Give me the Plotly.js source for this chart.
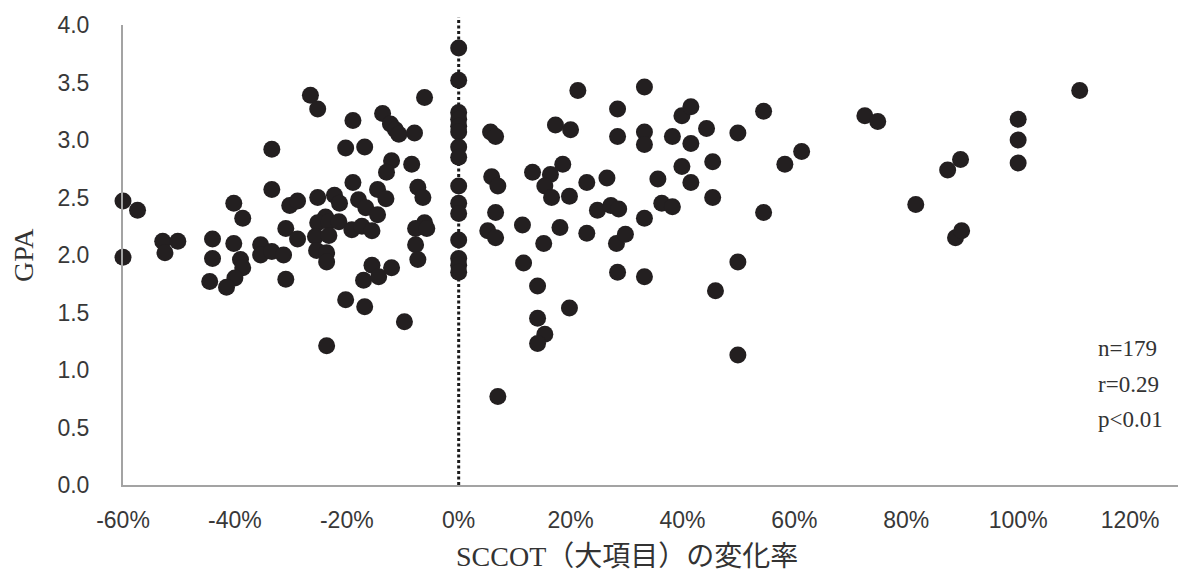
<!DOCTYPE html>
<html>
<head>
<meta charset="utf-8">
<script src="https://cdn.plot.ly/plotly-3.0.1.min.js"></script>
<style>html,body{margin:0;padding:0;background:#fff;}#chart{width:1178px;height:573px;}</style>
</head>
<body>
<div id="chart"></div>
<script>
// SCCOT change rate (fraction) and GPA
const sccotChange = [
  -0.60,-0.574,-0.60,-0.529,-0.502,-0.525,-0.445,-0.440,-0.440,-0.402,-0.386,-0.402,-0.390,-0.386,-0.400,-0.415,
  -0.354,-0.354,-0.334,-0.313,-0.309,-0.334,-0.334,-0.309,-0.302,-0.288,-0.288,
  -0.265,-0.252,-0.252,-0.238,-0.252,-0.232,-0.214,-0.256,-0.232,-0.254,-0.236,-0.236,-0.222,-0.213,-0.202,-0.189,-0.189,-0.202,-0.236,
  -0.168,-0.179,-0.166,-0.145,-0.145,-0.130,-0.191,-0.173,-0.155,-0.136,-0.122,-0.113,-0.107,-0.079,-0.061,-0.120,-0.129,-0.084,-0.073,-0.064,-0.061,-0.077,-0.057,-0.077,-0.073,-0.155,-0.170,-0.143,-0.120,-0.168,-0.097,
  0,0,0,0,0,0,0,0,0,0,0,0,0,0,0,
  0.057,0.066,0.059,0.070,0.066,0.052,0.066,0.070,
  0.114,0.116,0.132,0.164,0.186,0.154,0.166,0.198,0.152,0.181,0.173,0.200,0.213,0.141,0.198,0.141,0.154,0.141,
  0.229,0.229,0.265,0.248,0.272,0.286,0.284,0.284,0.282,0.298,0.284,
  0.332,0.332,0.332,0.332,0.332,0.356,0.363,0.382,0.382,0.399,0.415,0.415,0.399,0.415,
  0.443,0.454,0.454,0.459,0.499,0.499,0.499,
  0.545,0.545,0.583,0.613,0.726,0.749,
  0.817,0.874,0.897,0.888,0.899,1.00,1.00,1.00,1.110
];
const gpa = [
  2.47,2.39,1.98,2.12,2.12,2.02,1.77,2.14,1.97,2.45,2.32,2.10,1.96,1.89,1.80,1.72,
  2.09,2.00,2.03,2.00,1.79,2.92,2.57,2.23,2.43,2.47,2.14,
  3.39,3.27,2.50,2.33,2.28,2.29,2.29,2.16,2.17,2.04,2.02,1.94,2.52,2.45,2.93,3.17,2.63,1.61,1.21,
  2.94,2.48,2.41,2.35,2.57,2.49,2.22,2.25,2.21,3.23,3.14,3.09,3.05,3.06,3.37,2.82,2.72,2.79,2.59,2.50,2.28,2.23,2.23,2.09,1.96,1.91,1.78,1.81,1.89,1.55,1.42,
  3.80,3.52,3.24,3.18,3.12,3.07,2.94,2.85,2.60,2.45,2.36,2.13,1.97,1.91,1.85,
  3.07,3.03,2.68,2.60,2.37,2.21,2.15,0.77,
  2.26,1.93,2.72,2.70,2.79,2.60,2.50,2.51,2.10,2.24,3.13,3.09,3.43,1.73,1.54,1.45,1.31,1.23,
  2.63,2.19,2.67,2.39,2.43,2.40,3.27,3.03,2.10,2.18,1.85,
  3.46,3.07,2.96,2.32,1.81,2.66,2.45,2.42,3.03,3.21,3.29,2.97,2.77,2.63,
  3.10,2.81,2.50,1.69,3.06,1.94,1.13,
  3.25,2.37,2.79,2.90,3.21,3.16,
  2.44,2.74,2.83,2.15,2.21,3.18,3.00,2.80,3.43
];
const xTickVals = [-0.6,-0.4,-0.2,0,0.2,0.4,0.6,0.8,1.0,1.2];
const xTickText = ['-60%','-40%','-20%','0%','20%','40%','60%','80%','100%','120%'];
const yTickVals = [0,0.5,1,1.5,2,2.5,3,3.5,4];
const yTickText = ['0.0','0.5','1.0','1.5','2.0','2.5','3.0','3.5','4.0'];
const statsLines = ['n=179','r=0.29','p&lt;0.01'];
const xTitle = 'SCCOT（大項目）の変化率';
const yTitle = 'GPA';

const tickFont = {family:'Liberation Sans, Arial, sans-serif', size:23, color:'#383838'};
const serifFont = {family:'Liberation Serif, Noto Sans CJK JP, serif', size:28, color:'#333333'};
const axisColor = '#a3a3a3';

const trace = {
  type:'scatter', mode:'markers', x:sccotChange, y:gpa, cliponaxis:false,
  marker:{size:17, color:'#231f20', line:{width:0}}, hoverinfo:'none'
};

const statsAnn = statsLines.map((t,i)=>({
  text:t, xref:'paper', yref:'y', x:0.922, y:[1.19,0.87,0.57][i], xanchor:'left', yanchor:'middle',
  showarrow:false, font:{family:'Liberation Serif, serif', size:23, color:'#333333'}
}));

const layout = {
  width:1178, height:573,
  margin:{l:123, r:0, t:25, b:88},
  paper_bgcolor:'#ffffff', plot_bgcolor:'#ffffff',
  showlegend:false,
  xaxis:{range:[-0.6,1.2857], tickvals:xTickVals, ticktext:xTickText, showgrid:false, zeroline:false,
    showline:true, linecolor:axisColor, linewidth:2, ticks:'', tickfont:tickFont, ticklabelstandoff:13, fixedrange:true},
  yaxis:{range:[0,4], tickvals:yTickVals, ticktext:yTickText, showgrid:false, zeroline:false,
    showline:true, linecolor:axisColor, linewidth:2, ticks:'', tickfont:tickFont, ticklabelstandoff:27, fixedrange:true},
  shapes:[{type:'line', xref:'x', yref:'paper', x0:0, x1:0, y0:0, y1:1.017, layer:'below',
    line:{color:'#1a1a1a', width:3, dash:'3px,2.5px'}}],
  annotations:[
    {text:xTitle, xref:'x', yref:'paper', x:0.3, y:0, yshift:-71, xanchor:'center', yanchor:'middle', showarrow:false, font:serifFont},
    {text:yTitle, xref:'paper', yref:'paper', x:0, y:0.5, xshift:-100, textangle:-90, xanchor:'center', yanchor:'middle', showarrow:false, font:serifFont}
  ].concat(statsAnn)
};

Plotly.newPlot('chart',[trace],layout,{staticPlot:true, displayModeBar:false});
</script>
</body>
</html>
